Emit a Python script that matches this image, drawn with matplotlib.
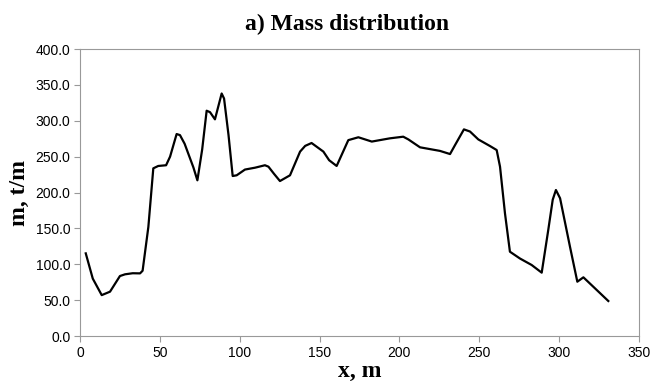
import matplotlib
matplotlib.use("Agg")
import matplotlib.pyplot as plt

x_m = [3.6, 8, 13.6, 18.8, 25, 28.2, 33, 37.6, 39.2, 42.8, 45.9, 49, 53.9, 56.4,
       60.5, 62.6, 65.5, 68.5, 71, 73.5, 76.5, 79.3, 81.4, 84.5, 88.7, 90.2, 93,
       95.6, 98.1, 103.3, 109.6, 115.8, 118, 121.5, 125.2, 131.5, 137.8, 141, 145,
       152.4, 156, 160.7, 168, 174.3, 182.7, 194, 202.4, 205.6, 212.9, 225.4,
       231.7, 234.8, 240.4, 244.2, 249.4, 256.7, 260.9, 263, 266.1, 269.2, 275.5,
       282.8, 289.1, 293.2, 296, 298, 300.6, 306.8, 311.4, 315.2, 321.4, 330.8]
m_tm = [115.2, 80, 57, 61.8, 83.6, 86, 87.5, 87.3, 91, 152, 233.7, 237, 238, 250,
        281.5, 280, 268, 250, 235, 217, 260, 314, 312, 302, 338, 331, 280,
        223, 224, 232, 234.6, 238, 236, 226, 216, 224, 257, 265, 269,
        257, 245, 237, 273, 277, 271, 275.5, 277.8, 274, 263, 258,
        253.6, 266, 288, 285, 274, 264.8, 259.2, 236, 171, 117.5, 108,
        99, 88.3, 147.7, 190, 203.5, 192, 124.5, 75.7, 81.8, 68.7, 48.8]

xticks = [0, 50, 100, 150, 200, 250, 300, 350]
yticks = [0, 50, 100, 150, 200, 250, 300, 350, 400]

fig = plt.figure(figsize=(6.59, 3.89), dpi=100)
ax = fig.add_axes([0.1214, 0.1362, 0.8482, 0.7378])
ax.plot(x_m, m_tm, color="black", lw=1.6, solid_joinstyle="round")
ax.set_xlim(0, 350)
ax.set_ylim(0, 400)
ax.set_xticks(xticks)
ax.set_yticks(yticks)
ax.set_xticklabels([str(v) for v in xticks], family="Liberation Sans", fontsize=10)
ax.set_yticklabels([f"{v:.1f}" for v in yticks], family="Liberation Sans", fontsize=10)
for s in ax.spines.values():
    s.set_color("#999999")
    s.set_linewidth(0.8)
ax.tick_params(direction="out", length=4, color="#999999", width=0.8, pad=3)
ax.set_title("a) Mass distribution", family="Liberation Serif", fontweight="bold",
             fontsize=17, pad=14, x=0.478)
ax.set_xlabel("x, m", family="Liberation Serif", fontweight="bold", fontsize=17, labelpad=1)
ax.set_ylabel("m, t/m", family="Liberation Serif", fontweight="bold", fontsize=17, labelpad=4)
fig.savefig("out.png", dpi=100)
